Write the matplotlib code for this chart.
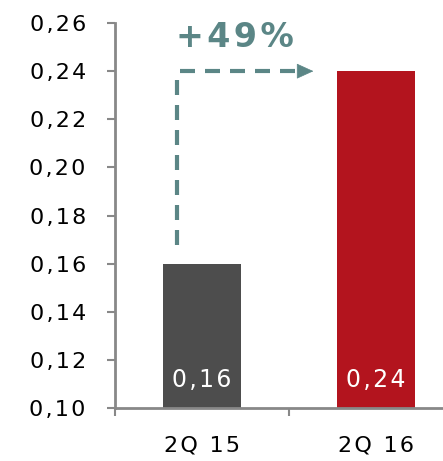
import numpy as np
import matplotlib.pyplot as plt

# Dados do gráfico
categorias = ['2Q 15', '2Q 16']
valores = [0.16, 0.24]
cores = ['#4d4d4d', '#b3141e']
variacao = '+49%'
yticks = [0.10, 0.12, 0.14, 0.16, 0.18, 0.20, 0.22, 0.24, 0.26]

plt.rcParams['font.family'] = ['DejaVu Sans']


def espacado(s):
    # espaçamento extra entre as letras
    return '\u200a'.join(s)


def fmt(v):
    return espacado(f'{v:.2f}'.replace('.', ','))


fig = plt.figure(figsize=(4.43, 4.61), dpi=100)
ax = fig.add_axes([0.2596, 0.115, 0.7404, 0.835])

x = np.arange(len(categorias))
ax.bar(x, valores, width=0.45, color=cores, zorder=2)

# Rótulos dentro das barras
for xi, v in zip(x, valores):
    ax.text(xi, 0.1118, fmt(v), ha='center', va='center',
            color='white', fontsize=17)

# Eixos
ax.set_ylim(0.10, 0.26)
ax.set_xlim(-0.5, 1.385)
ax.set_yticks(yticks)
ax.set_yticklabels([fmt(t) for t in yticks])
ax.set_xticks(x)
ax.set_xticklabels([espacado(c) for c in categorias])
ax.set_xticks([-0.5, 0.5], minor=True)

for s in ['top', 'right']:
    ax.spines[s].set_visible(False)
for s in ['left', 'bottom']:
    ax.spines[s].set_color('#888888')
    ax.spines[s].set_linewidth(2)

ax.tick_params(axis='y', length=6, width=1.5, color='#888888', pad=15,
               labelsize=16, labelcolor='black')
ax.tick_params(axis='x', which='major', length=0, pad=20, labelsize=16)
ax.tick_params(axis='x', which='minor', length=6, width=1.5, color='#888888')

# Seta tracejada indicando a variação
teal = '#5b8686'
x0 = -0.144
x1 = 0.64
y_ini = valores[0] + 0.0077
ax.plot([x0, x0], [y_ini, valores[1] - 0.001], color=teal,
        lw=3, ls=(0, (3.6, 2.4)), zorder=3)
ax.plot([x0 + 0.02, x1 - 0.07], [valores[1], valores[1]], color=teal,
        lw=3, ls=(0, (3.6, 2.4)), zorder=3)
ax.annotate('', xy=(x1, valores[1]), xytext=(x1 - 0.08, valores[1]),
            arrowprops=dict(arrowstyle='-|>,head_length=1.1,head_width=0.5',
                            color=teal, lw=0.5, shrinkA=0, shrinkB=0))
ax.text(0.19, 0.254, espacado(variacao), ha='center', va='center', color=teal,
        fontsize=24, fontweight='bold')

fig.savefig('out.png', dpi=100)
